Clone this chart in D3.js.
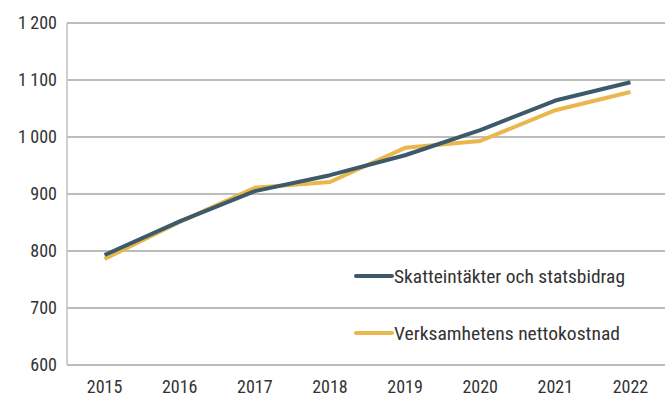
<!DOCTYPE html>
<html>
<head>
<meta charset="utf-8">
<script src="https://cdn.jsdelivr.net/npm/d3@7"></script>
<style>
  body { margin: 0; background: #fff; }
  text { font-family: "Liberation Sans Narrow", "Roboto Condensed", "Liberation Sans", sans-serif; fill: #333; }
</style>
</head>
<body>
<svg id="chart"></svg>
<script>
const width = 665;
const height = 403;
const margin = { top: 23, right: -3, bottom: 38, left: 67 };

// Data
const years = ["2015", "2016", "2017", "2018", "2019", "2020", "2021", "2022"];
const skatt = [793, 852, 905, 933, 968, 1012, 1064, 1096];
const netto = [786, 851, 911, 921, 981, 993, 1047, 1079];
const yTicks = [600, 700, 800, 900, 1000, 1100, 1200];
const seriesNames = ["Skatteintäkter och statsbidrag", "Verksamhetens nettokostnad"];
const colors = ["#3d5a6b", "#e9b84c"];

const svg = d3.select("#chart").attr("width", width).attr("height", height);

const x = d3
  .scaleBand()
  .domain(years)
  .range([margin.left, width - margin.right]);

const y = d3
  .scaleLinear()
  .domain([600, 1200])
  .range([height - margin.bottom, margin.top]);

// gridlines
svg
  .append("g")
  .selectAll("line")
  .data(yTicks)
  .enter()
  .append("line")
  .attr("x1", margin.left)
  .attr("x2", width - margin.right)
  .attr("y1", (d) => y(d))
  .attr("y2", (d) => y(d))
  .attr("stroke", "#a6a6a6")
  .attr("stroke-width", 1.5);

// left axis line
svg
  .append("line")
  .attr("x1", margin.left)
  .attr("x2", margin.left)
  .attr("y1", y(1200))
  .attr("y2", y(600))
  .attr("stroke", "#bfbfbf")
  .attr("stroke-width", 1.5);

const fmt = (d) => d3.format(",")(d).replace(",", "\u2009");

svg
  .append("g")
  .selectAll("text")
  .data(yTicks)
  .enter()
  .append("text")
  .attr("x", margin.left - 10)
  .attr("y", (d) => y(d))
  .attr("dy", "0.35em")
  .attr("text-anchor", "end")
  .attr("font-size", "18px")
  .text(fmt);

svg
  .append("g")
  .selectAll("text")
  .data(years)
  .enter()
  .append("text")
  .attr("x", (d) => x(d) + x.bandwidth() / 2)
  .attr("y", height - 10)
  .attr("text-anchor", "middle")
  .attr("font-size", "18px")
  .text((d) => d);

const line = d3
  .line()
  .x((d, i) => x(years[i]) + x.bandwidth() / 2)
  .y((d) => y(d));

[netto, skatt].forEach((vals, k) => {
  svg
    .append("path")
    .datum(vals)
    .attr("fill", "none")
    .attr("stroke", k === 0 ? colors[1] : colors[0])
    .attr("stroke-width", 4)
    .attr("stroke-linejoin", "round")
    .attr("d", line);
});

// legend
const legend = svg.append("g");
const legendWidths = [231, 226];
seriesNames.forEach((name, i) => {
  const ly = 276 + i * 57;
  legend
    .append("line")
    .attr("x1", 356)
    .attr("x2", 392)
    .attr("y1", ly)
    .attr("y2", ly)
    .attr("stroke", colors[i])
    .attr("stroke-width", 4)
    .attr("stroke-linecap", "round");
  legend
    .append("text")
    .attr("x", 394)
    .attr("y", ly)
    .attr("dy", "0.35em")
    .attr("font-size", "19px")
    .attr("textLength", legendWidths[i])
    .attr("lengthAdjust", "spacingAndGlyphs")
    .text(name);
});
</script>
</body>
</html>
